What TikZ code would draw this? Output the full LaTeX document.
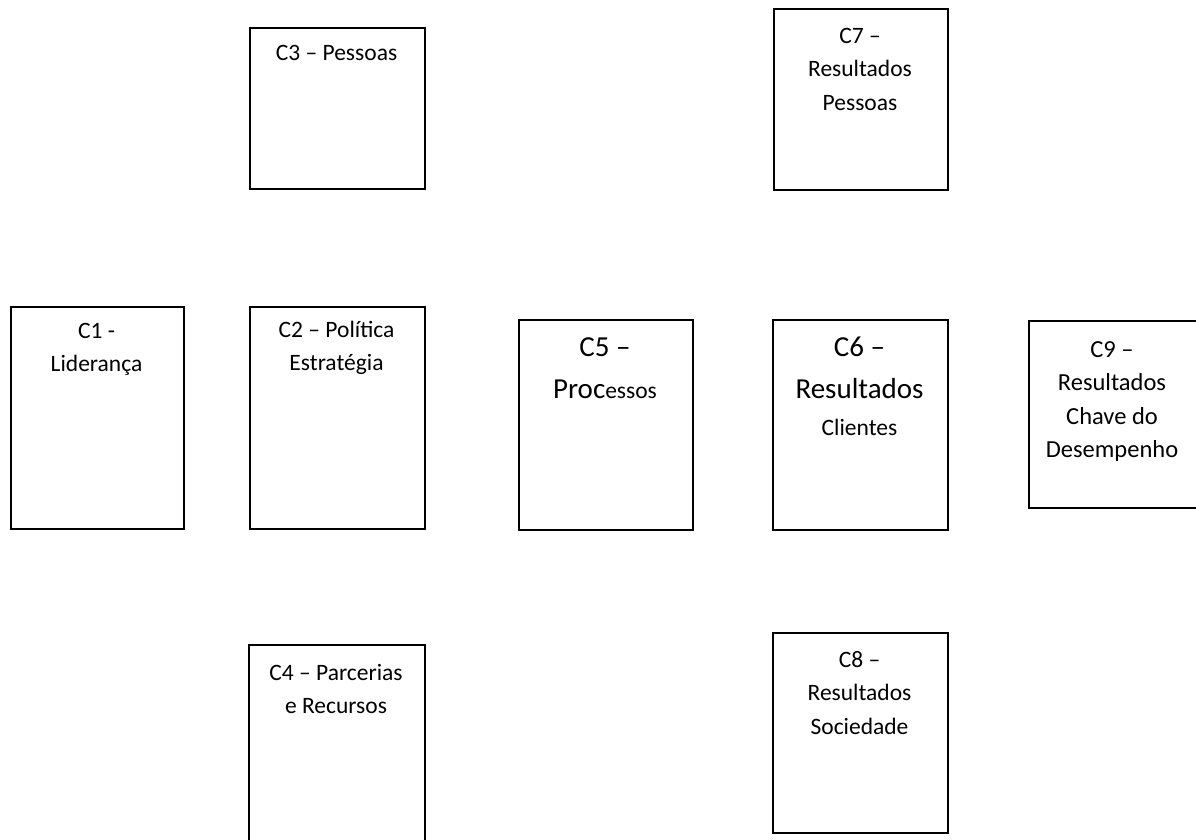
\documentclass[tikz,border=0pt]{standalone}
\usepackage{fontspec}
\setmainfont{Carlito}
\newcommand{\nrm}{\fontsize{23.5}{33.5}\selectfont}
\newcommand{\nrmw}{\fontsize{24.5}{33.5}\selectfont}
\newcommand{\bigf}{\fontsize{29}{42.5}\selectfont}
\newcommand{\sN}{\rule{0pt}{20pt}}
\newcommand{\sB}{\rule{0pt}{25pt}}
\begin{document}
\begin{tikzpicture}[x=1pt,y=-1pt,
  box/.style={draw=black,line width=2pt,fill=white,anchor=north west,inner sep=0pt},
  lbl/.style={anchor=north,align=center,inner sep=0pt,font=\nrm},
  biglbl/.style={anchor=north,align=center,inner sep=0pt,font=\bigf}]
\useasboundingbox[fill=white] (0,0) rectangle (1196,839);
% boxes
\node[box,minimum width=175pt,minimum height=161pt] (c3) at (249,27) {};
\node[box,minimum width=174pt,minimum height=181pt] (c7) at (773,8) {};
\node[box,minimum width=173pt,minimum height=222pt] (c1) at (10,306) {};
\node[box,minimum width=175pt,minimum height=222pt] (c2) at (249,306) {};
\node[box,minimum width=174pt,minimum height=210pt] (c5) at (518,319) {};
\node[box,minimum width=175pt,minimum height=210pt] (c6) at (772,319) {};
\node[box,minimum width=170pt,minimum height=187pt] (c9) at (1028,320) {};
\node[box,minimum width=176pt,minimum height=204pt] (c4) at (248,644) {};
\node[box,minimum width=175pt,minimum height=200pt] (c8) at (772,632) {};
% labels (first baseline = y + strut height)
\node[lbl] (t3) at (336.5,40) {\sN C3 – Pessoas};
\node[lbl] (t7) at (860,23) {\sN C7 –\\Resultados\\Pessoas};
\node[lbl] (t1) at (96.5,318) {\sN C1 -\\Liderança};
\node[lbl] (t2) at (336.5,317) {\sN C2 – Política\\Estratégia};
\node[biglbl] (t5) at (605,331) {\sB C5 –\\Proc{\nrm essos}};
\node[biglbl] (t6) at (859.5,331) {\sB C6 –\\Resultados\\[-6pt]{\nrm Clientes}};
\node[lbl,font=\nrmw] (t9) at (1112,337) {\sN C9 –\\Resultados\\Chave do\\Desempenho};
\node[lbl] (t4) at (336,660) {\sN C4 – Parcerias\\e Recursos};
\node[lbl] (t8) at (859.5,647) {\sN C8 –\\Resultados\\Sociedade};
\end{tikzpicture}
\end{document}
